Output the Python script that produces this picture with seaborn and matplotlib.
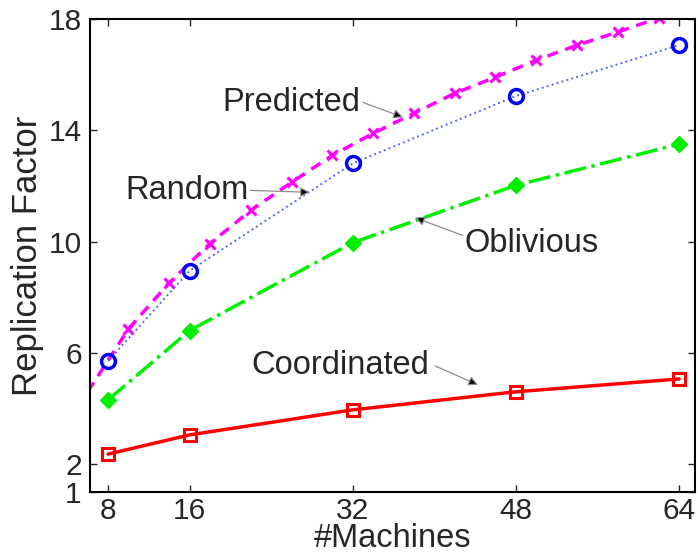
import numpy as np
import pandas as pd
import matplotlib
matplotlib.use("Agg")
import matplotlib.pyplot as plt
import seaborn as sns

# ---- data ----
machines = [8, 16, 32, 48, 64]
coordinated = [2.36, 3.05, 3.95, 4.60, 5.06]
oblivious = [4.31, 6.80, 9.96, 12.02, 13.50]
random_rf = [5.71, 8.95, 12.81, 15.23, 17.06]
pred_machines = [6, 10, 14, 18, 22, 26, 30, 34, 38, 42, 46, 50, 54, 58, 62, 66]
predicted = [4.60, 6.86, 8.52, 9.93, 11.12, 12.13, 13.10, 13.89, 14.61,
             15.33, 15.91, 16.52, 17.06, 17.53, 18.04, 18.50]
x_ticks = [8, 16, 32, 48, 64]
y_ticks = [1, 2, 6, 10, 14, 18]

sns.set_style("ticks")
plt.rcParams['font.family'] = ['Liberation Sans', 'DejaVu Sans']

fig = plt.figure(figsize=(6.98, 5.59), dpi=100)
ax = fig.add_axes([0.129, 0.12, 0.8667, 0.846])

sns.lineplot(x=pred_machines, y=predicted, ax=ax, color='#ff00ff', linestyle=(0, (3.2, 2.2)),
             linewidth=2.5, marker='x', markersize=7, markeredgewidth=2.2,
             markeredgecolor='#ff00ff', markevery=slice(1, None))
sns.lineplot(x=machines, y=random_rf, ax=ax, color='#5566ff', linestyle=':',
             linewidth=1.4, marker='o', markersize=10, markeredgewidth=2.5,
             markerfacecolor='none', markeredgecolor='#0000ff')
sns.lineplot(x=machines, y=oblivious, ax=ax, color='#00ee00', linestyle='-.',
             linewidth=2.5, marker='D', markersize=8, markeredgewidth=1,
             markerfacecolor='#00ee00', markeredgecolor='#00ee00')
sns.lineplot(x=machines, y=coordinated, ax=ax, color='#ff0000', linestyle='-',
             linewidth=2.5, marker='s', markersize=9, markeredgewidth=2.2,
             markerfacecolor='none', markeredgecolor='#ff0000')

ax.set_xlim(6.23, 65.57)
ax.set_ylim(1, 18)
ax.set_xticks(x_ticks)
ax.set_yticks(y_ticks)
ax.tick_params(direction='in', top=True, right=True, labelsize=21.5, length=5,
               width=1, pad=4)
ax.tick_params(axis='y', pad=6)
for s in ax.spines.values():
    s.set_linewidth(1.5)
    s.set_color('black')

ax.set_xlabel('#Machines', fontsize=23.5, labelpad=-2)
ax.set_ylabel('Replication Factor', fontsize=25, labelpad=3)

fs = 23.5
aprops = dict(arrowstyle='-|>', ec='0.55', fc='black', lw=0.9, mutation_scale=14,
              shrinkA=0, shrinkB=0)
ax.text(19.18, 15.0, 'Predicted', fontsize=fs, ha='left', va='center')
ax.annotate('', xy=(36.93, 14.47), xytext=(33.0, 15.0), arrowprops=aprops)
ax.text(9.67, 11.84, 'Random', fontsize=fs, ha='left', va='center')
ax.annotate('', xy=(27.8, 11.77), xytext=(21.93, 11.84), arrowprops=aprops)
ax.text(43.0, 9.93, 'Oblivious', fontsize=fs, ha='left', va='center')
ax.annotate('', xy=(38.1, 10.86), xytext=(42.8, 10.22), arrowprops=aprops)
ax.text(22.1, 5.53, 'Coordinated', fontsize=fs, ha='left', va='center')
ax.annotate('', xy=(44.29, 4.85), xytext=(40.07, 5.53), arrowprops=aprops)

fig.savefig('out.png', dpi=100)
